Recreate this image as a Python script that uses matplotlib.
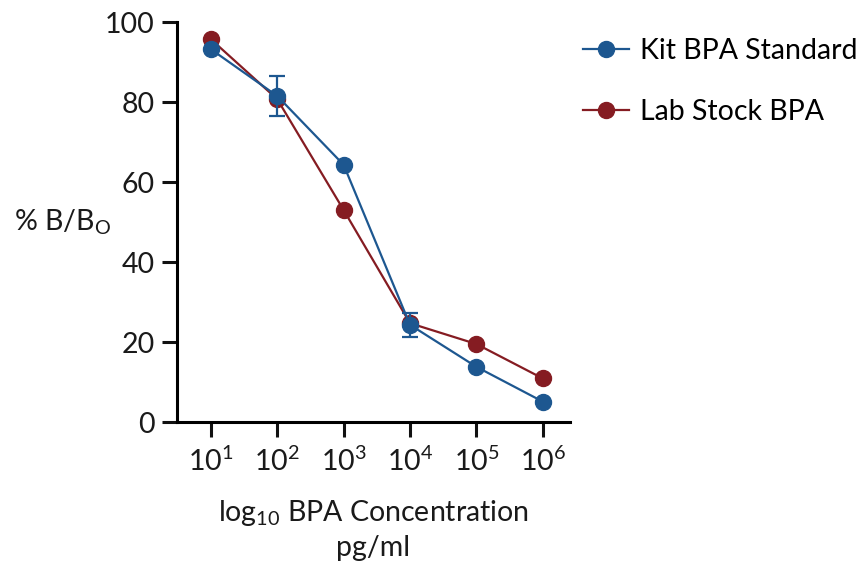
import matplotlib

matplotlib.use("Agg")
import matplotlib.pyplot as plt
from matplotlib.lines import Line2D

# BPA competitive ELISA standard curve
concentration = [1e1, 1e2, 1e3, 1e4, 1e5, 1e6]
tick_labels = ["$10^{1}$", "$10^{2}$", "$10^{3}$", "$10^{4}$", "$10^{5}$", "$10^{6}$"]

kit_standard = [93.2, 81.5, 64.3, 24.3, 13.8, 5.1]
kit_error = [0.0, 5.0, 0.0, 3.0, 0.0, 0.0]
lab_stock = [95.7, 80.7, 53.0, 24.7, 19.5, 10.9]

BLUE = "#1d5790"
RED = "#851c22"
FS = 20.5

plt.rcParams["font.family"] = ["Lato", "DejaVu Sans"]
plt.rcParams["mathtext.fontset"] = "custom"
plt.rcParams["mathtext.rm"] = "Lato"
plt.rcParams["mathtext.it"] = "Lato"
plt.rcParams["mathtext.default"] = "rm"

fig = plt.figure(figsize=(8.67, 5.72), dpi=100)
ax = fig.add_axes([0.2042, 0.2622, 0.4532, 0.6993])

ax.plot(concentration, lab_stock, "-o", color=RED, lw=1.6, ms=11.5, zorder=2)
ax.errorbar(concentration, kit_standard, yerr=kit_error, fmt="-o", color=BLUE,
            lw=1.6, ms=11.5, elinewidth=1.6, capsize=6, capthick=1.6, zorder=3)

ax.set_xscale("log")
ax.set_xlim(10 ** 0.49, 10 ** 6.41)
ax.set_ylim(0, 100)
ax.set_xticks(concentration)
ax.set_xticklabels(tick_labels)
ax.minorticks_off()
ax.set_yticks([0, 20, 40, 60, 80, 100])

for side in ("top", "right"):
    ax.spines[side].set_visible(False)
for side in ("left", "bottom"):
    ax.spines[side].set_linewidth(2.2)
ax.tick_params(axis="both", width=2.2, length=11, labelsize=FS, color="#111111",
               labelcolor="#1a1a1a", pad=5)
ax.tick_params(axis="x", pad=7)

ax.set_xlabel("log$_{10}$ BPA Concentration\npg/ml", fontsize=FS, color="#1a1a1a",
              labelpad=16, linespacing=1.3)
fig.text(0.072, 0.612, "% B/B$_{O}$", fontsize=FS, color="#1a1a1a",
         ha="center", va="center")

handles = [
    Line2D([], [], color=BLUE, marker="o", lw=1.6, ms=11.5),
    Line2D([], [], color=RED, marker="o", lw=1.6, ms=11.5),
]
fig.legend(handles, ["Kit BPA Standard", "Lab Stock BPA"],
           loc="upper left", bbox_to_anchor=(583 / 867, 1 - 38 / 572), frameon=False,
           fontsize=FS, handlelength=1.6, labelspacing=1.23, handletextpad=0.4,
           borderpad=0, borderaxespad=0)

fig.savefig("out.png", dpi=100)
